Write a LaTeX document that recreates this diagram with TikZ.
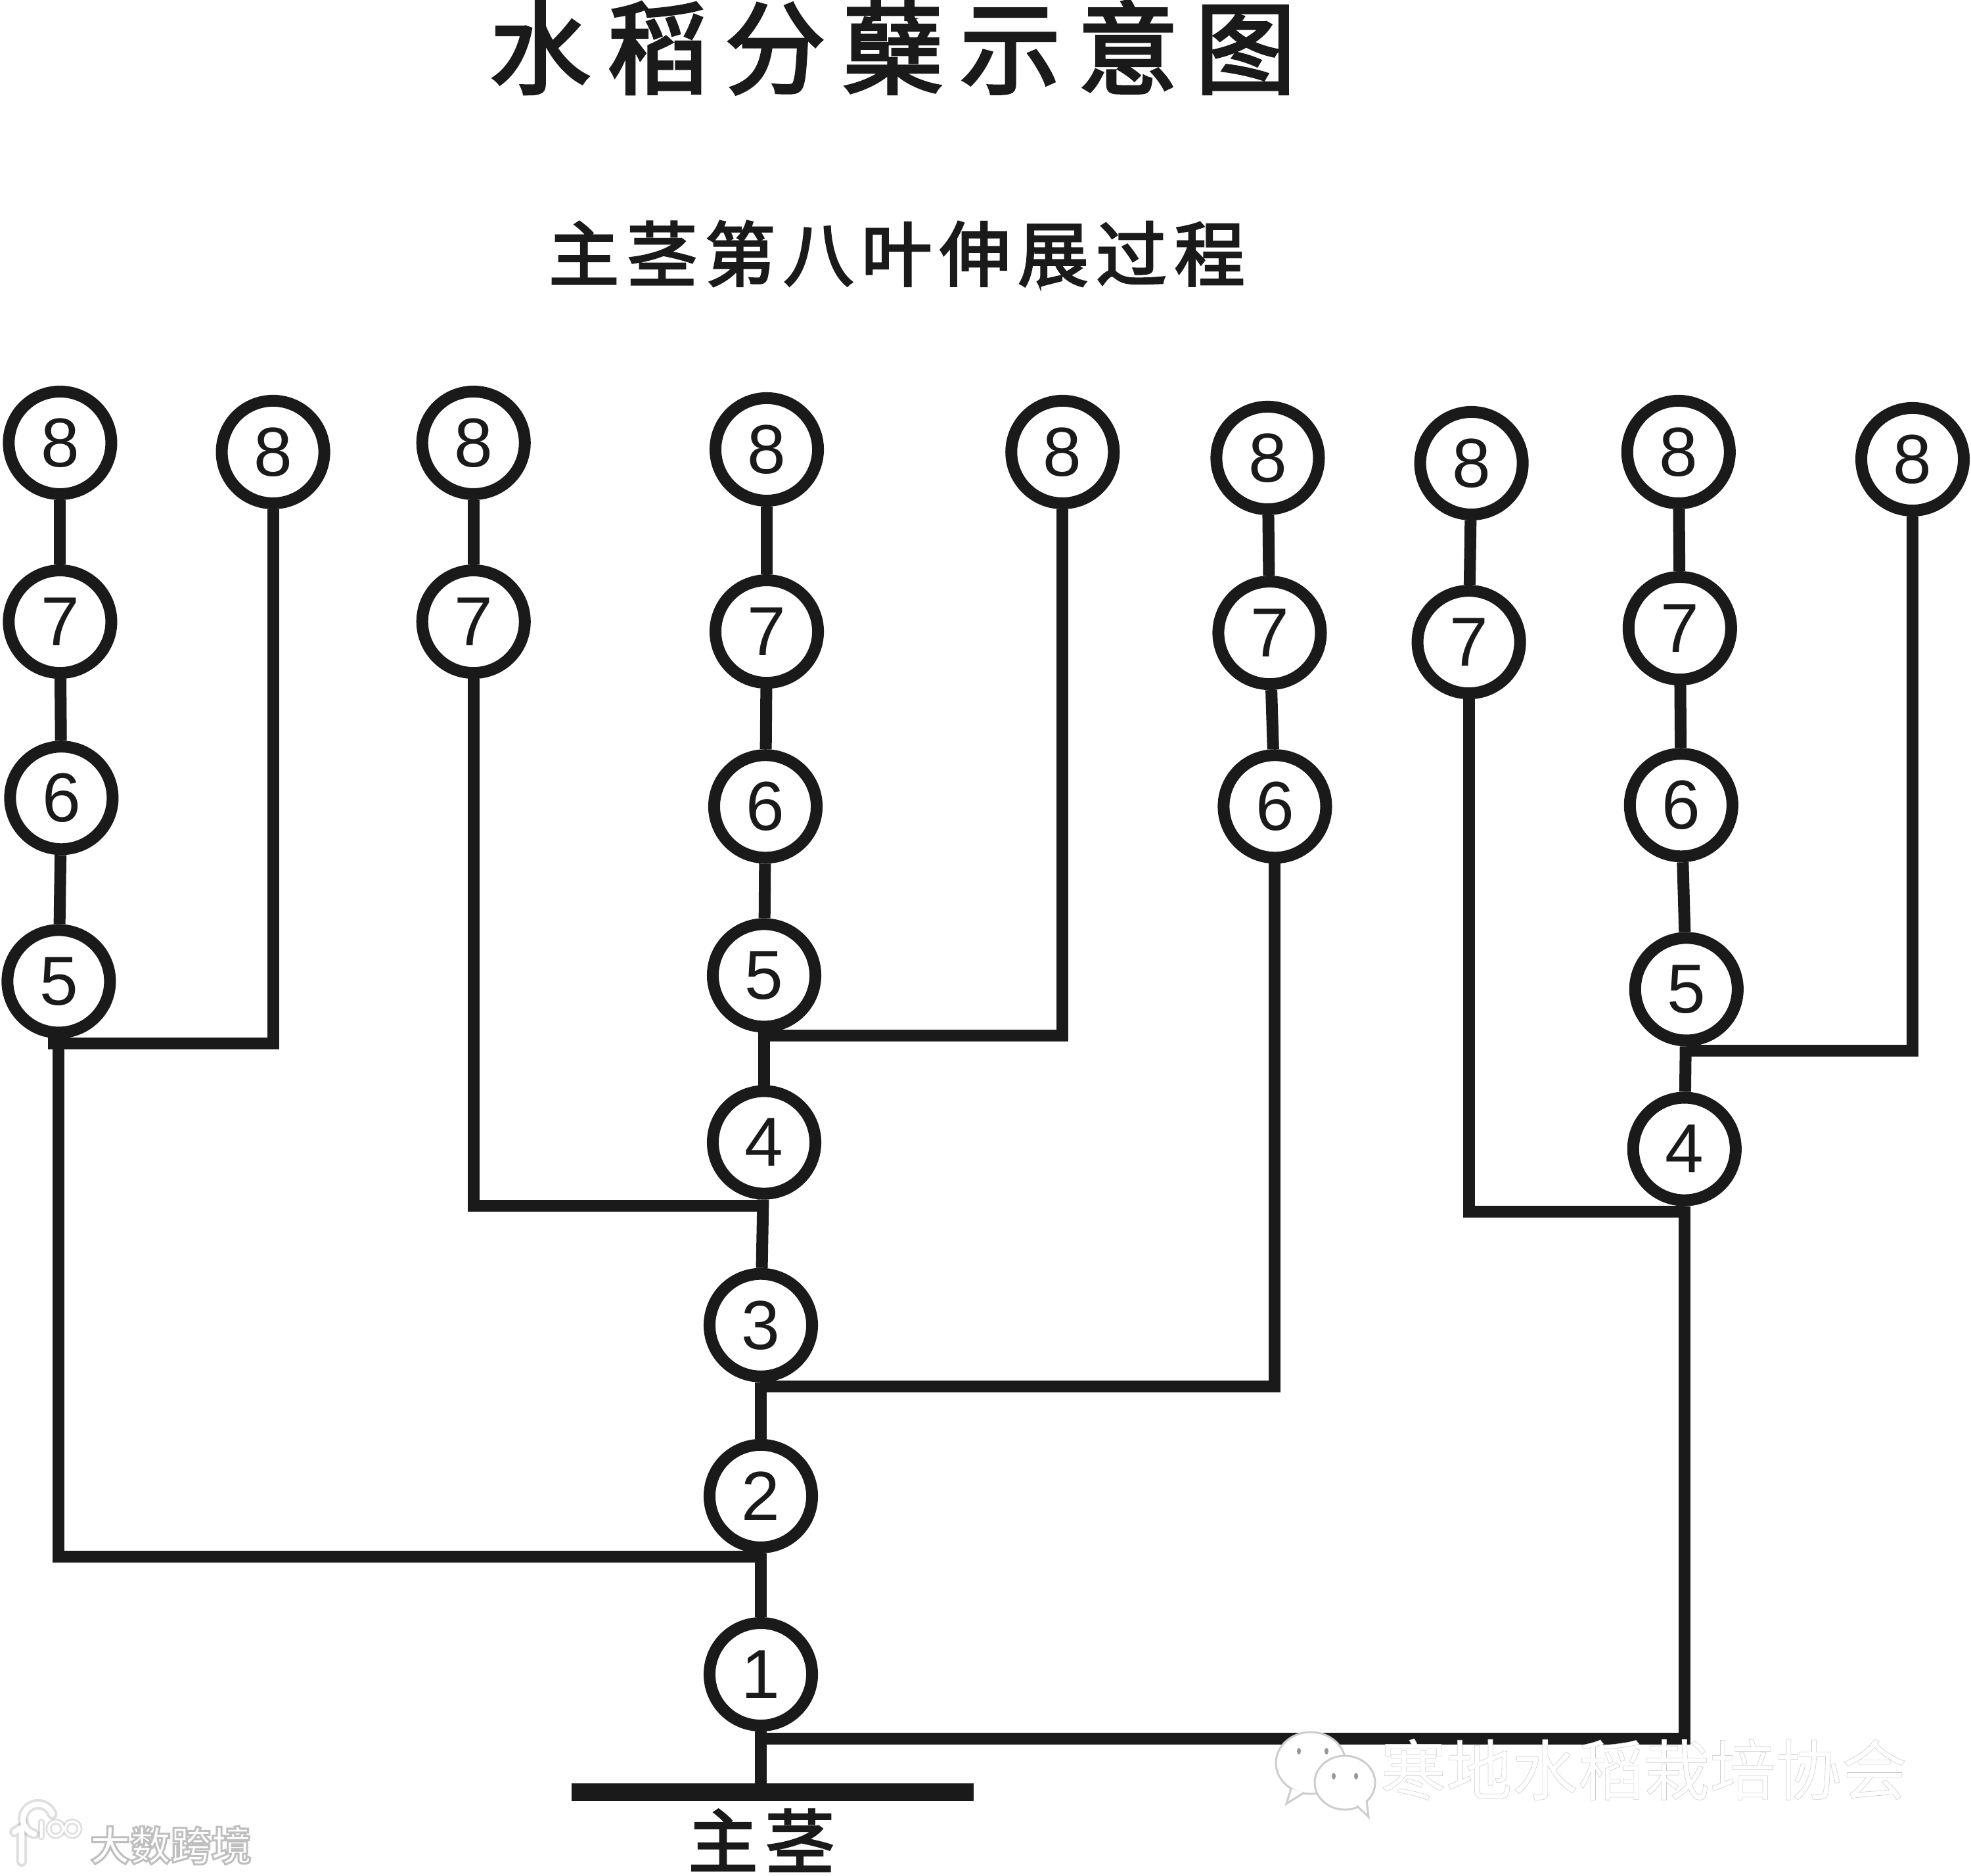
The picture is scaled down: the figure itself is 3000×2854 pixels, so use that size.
\documentclass[tikz,border=0pt]{standalone}
\usepackage{xcolor}
\usepackage{fontspec}
\usepackage{tikz}
\usetikzlibrary{positioning}
\setmainfont{Liberation Sans}
\newfontfamily\cjk{Noto Sans CJK SC}
\newfontfamily\cjkhead[FakeBold=3]{Noto Sans CJK SC}
\newfontfamily\cjkmark[FakeBold=0.6]{Noto Sans CJK SC}
\newfontfamily\cjklogo[FakeBold=5]{Noto Sans CJK SC Bold}
\definecolor{lineColor}{RGB}{26, 26, 26}
\definecolor{markGray}{RGB}{205, 205, 205}
\definecolor{glowGray}{RGB}{150, 150, 150}

\begin{document}
\begin{tikzpicture}[
    x=0.01cm, y=-0.01cm,
    leaf/.style={circle, draw=lineColor, fill=white, line width=0.18cm, minimum size=1.56cm, inner sep=0pt, text=lineColor, font=\fontsize{30}{30}\selectfont},
    line/.style={draw=lineColor, line width=0.18cm},
    heading/.style={text=lineColor, inner sep=0pt, font=\cjkhead},
    marktext/.style={text=white, inner sep=0pt, font=\cjkmark\fontsize{28.5}{28.5}\selectfont},
    logotext/.style={text=white, inner sep=0pt, font=\cjklogo\fontsize{17.5}{17.5}\selectfont},
    logoglow/.style={draw=glowGray, opacity=0.3, line cap=round},
    logoline/.style={draw=white, line cap=round},
    bubble/.style={draw=markGray, fill=white, line width=0.03cm}
]
    \useasboundingbox (0,0) rectangle (3000,2854);

    % Titles
    \node (title) [heading] at (1359,72) {\addfontfeature{LetterSpace=17}\fontsize{43.5}{43.5}\selectfont 水稻分蘖示意图};
    \node (subtitle) [heading] at (1365,386) {\addfontfeature{LetterSpace=11}\fontsize{30.5}{30.5}\selectfont 主茎第八叶伸展过程};

    % Main stem
    \node (m1) [leaf] at (1158,2548) {1};
    \node (m2) [leaf, above=0.97cm of m1] {2};
    \node (m3) [leaf, above=0.86cm of m2] {3};
    \node (m4) [leaf, above=1.04cm of m3, xshift=0.05cm] {4};
    \node (m5) [leaf, above=0.80cm of m4] {5};
    \node (m6) [leaf, above=0.83cm of m5, xshift=0.02cm] {6};
    \node (m7) [leaf, above=0.92cm of m6, xshift=0.02cm] {7};
    \node (m8) [leaf, above=1.03cm of m7] {8};

    % Left tillers
    \node (a5) [leaf, left=8.99cm of m5, yshift=-0.09cm] {5};
    \node (a6) [leaf, above=1.05cm of a5, xshift=0.04cm] {6};
    \node (a7) [leaf, above=0.94cm of a6, xshift=-0.02cm] {7};
    \node (a8) [leaf, above=0.98cm of a7] {8};
    \node (b8) [leaf, right=1.50cm of a8, yshift=-0.14cm] {8};
    \node (c8) [leaf, right=1.31cm of b8, yshift=0.14cm] {8};
    \node (c7) [leaf, below=0.98cm of c8] {7};

    % Right tillers
    \node (d8) [leaf, right=2.76cm of m8, yshift=-0.04cm] {8};
    \node (e8) [leaf, right=1.38cm of d8, yshift=-0.09cm] {8};
    \node (e7) [leaf, below=0.92cm of e8, xshift=0.03cm] {7};
    \node (e6) [leaf, below=0.90cm of e7, xshift=0.08cm] {6};
    \node (f8) [leaf, right=1.36cm of e8, yshift=-0.08cm] {8};
    \node (f7) [leaf, below=0.98cm of f8, xshift=-0.04cm] {7};
    \node (g8) [leaf, right=1.41cm of f8, yshift=0.17cm] {8};
    \node (g7) [leaf, below=0.94cm of g8, xshift=0.02cm] {7};
    \node (g6) [leaf, below=0.95cm of g7, xshift=0.02cm] {6};
    \node (g5) [leaf, below=1.06cm of g6, xshift=0.08cm] {5};
    \node (g4) [leaf, below=0.69cm of g5, xshift=-0.03cm] {4};
    \node (h8) [leaf, right=1.82cm of g8, yshift=-0.11cm] {8};

    % Base
    \node (base) [fill=lineColor, minimum width=6.11cm, minimum height=0.27cm, inner sep=0pt, outer sep=0pt, below=0.785cm of m1, xshift=0.18cm] {};
    \node (stemname) [heading, below=0.12cm of base, xshift=-0.17cm] {\addfontfeature{LetterSpace=11}\fontsize{30}{30}\selectfont 主茎};

    % Joints
    \node (j1) [coordinate, below=0.11cm of m1] {};
    \node (j2) [coordinate, below=0.05cm of m2] {};
    \node (j3) [coordinate, below=0.06cm of m3] {};
    \node (j4) [coordinate, below=0.09cm of m4] {};
    \node (j5) [coordinate, below=0.05cm of m5] {};
    \node (ja) [coordinate, below=0.08cm of a5, xshift=-0.16cm] {};
    \node (k4) [coordinate, below=0.08cm of g4] {};
    \node (k5) [coordinate, below=0.07cm of g5] {};

    % Connections
    \path [line] (m8) -- (m7);
    \path [line] (m7) -- (m6);
    \path [line] (m6) -- (m5);
    \path [line] (m5) -- (m4);
    \path [line] (m4) -- (m3);
    \path [line] (m3) -- (m2);
    \path [line] (m2) -- (m1);
    \path [line] (m1) -- (m1 |- base.north);
    \path [line] (a8) -- (a7);
    \path [line] (a7) -- (a6);
    \path [line] (a6) -- (a5);
    \path [line] (c8) -- (c7);
    \path [line] (e8) -- (e7);
    \path [line] (e7) -- (e6);
    \path [line] (f8) -- (f7);
    \path [line] (g8) -- (g7);
    \path [line] (g7) -- (g6);
    \path [line] (g6) -- (g5);
    \path [line] (g5) -- (g4);
    \path [line] (a5.south) |- (j2);
    \path [line] (b8.south) |- (ja);
    \path [line] (c7.south) |- (j4);
    \path [line] (d8.south) |- (j5);
    \path [line] (e6.south) |- (j3);
    \path [line] (f7.south) |- (k4);
    \path [line] (g4.south) |- (j1);
    \path [line] (h8.south) |- (k5);

    % Marks over the picture
    \draw [bubble] (1995,2683) ellipse (53 and 47);
    \draw [bubble] (1965,2722) -- (1958,2745) -- (1985,2728);
    \draw [bubble] (2047,2713) ellipse (46 and 41);
    \draw [bubble] (2065,2748) -- (2083,2765) -- (2080,2740);
    \fill [glowGray] (1977,2665) ellipse (3 and 5);
    \fill [glowGray] (2019,2665) ellipse (3 and 5);
    \fill [glowGray] (2030,2703) ellipse (3 and 5);
    \fill [glowGray] (2064,2703) ellipse (3 and 5);
    \node (wmtext) [marktext] at (2502,2693) {\special{pdf:code 0.8 G}寒地水稻栽培协会};

    \node (cntext) [logotext] at (260,2808) {\special{pdf:code 0.75 G}大数跨境};
    \draw [logoglow, line width=0.16cm] (22,2788) -- (33,2781) -- (33,2833);
    \draw [logoglow, line width=0.16cm] (52,2791) arc (105:340:23);
    \draw [logoglow, line width=0.09cm] (63,2772) -- (63,2796);
    \draw [logoglow, line width=0.09cm] (85,2783) circle (11);
    \draw [logoglow, line width=0.09cm] (110,2783) circle (11);
    \draw [logoline, line width=0.08cm] (22,2788) -- (33,2781) -- (33,2833);
    \draw [logoline, line width=0.08cm] (52,2791) arc (105:340:23);
    \draw [logoline, line width=0.035cm] (63,2772) -- (63,2796);
    \draw [logoline, line width=0.035cm] (85,2783) circle (11);
    \draw [logoline, line width=0.035cm] (110,2783) circle (11);
\end{tikzpicture}
\end{document}
